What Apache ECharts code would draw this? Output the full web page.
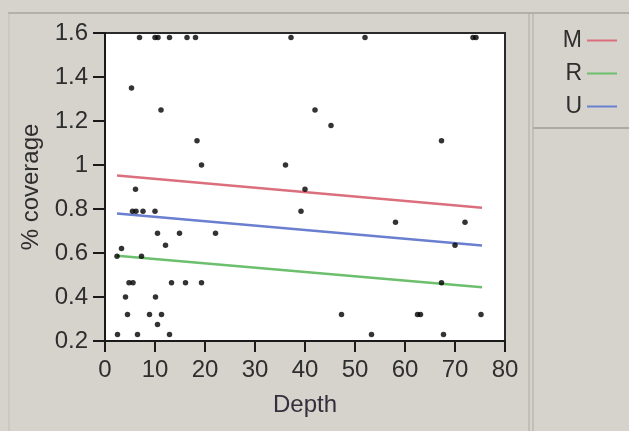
<!DOCTYPE html>
<html>
<head>
<meta charset="utf-8">
<script src="https://cdn.jsdelivr.net/npm/echarts@6/dist/echarts.min.js"></script>
<style>
  html, body { margin: 0; padding: 0; background: #d6d3cc; }
  #chart { width: 629px; height: 431px; }
</style>
</head>
<body>
<div id="chart"></div>
<script>
// scatter points (Depth, % coverage)
const depth = [
  6.9, 10.0, 10.6, 12.9, 16.4, 18.1, 37.2, 52.0, 73.6, 74.2,
  5.3, 11.2, 42.0, 45.2, 18.4, 67.3, 19.3, 36.1, 6.1, 40.0,
  5.5, 6.2, 7.6, 10.0, 39.2, 58.1, 72.0, 10.5, 14.9, 22.1,
  12.1, 70.0, 3.3, 2.4, 7.3,
  4.8, 5.6, 13.3, 16.1, 19.3, 67.3, 4.1, 10.1,
  4.5, 8.9, 11.3, 47.3, 62.5, 63.1, 75.2, 10.5,
  2.5, 6.5, 12.9, 53.3, 67.7
]
const coverage = [
  1.58, 1.58, 1.58, 1.58, 1.58, 1.58, 1.58, 1.58, 1.58, 1.58,
  1.35, 1.25, 1.25, 1.18, 1.11, 1.11, 1.0, 1.0, 0.89, 0.89,
  0.79, 0.79, 0.79, 0.79, 0.79, 0.74, 0.74, 0.69, 0.69, 0.69,
  0.635, 0.635, 0.62, 0.585, 0.585,
  0.465, 0.465, 0.465, 0.465, 0.465, 0.465, 0.40, 0.40,
  0.32, 0.32, 0.32, 0.32, 0.32, 0.32, 0.32, 0.275,
  0.23, 0.23, 0.23, 0.23, 0.23
]

// fitted lines, one per group
const fitDepth = [2.4, 75.4]
const fitM = [0.952, 0.806]
const fitR = [0.588, 0.444]
const fitU = [0.780, 0.634]

const groups = ['M', 'R', 'U']
const colors = { M: '#dc6f7d', R: '#6cbf6c', U: '#6a7fd0' }
const fits = { M: fitM, R: fitR, U: fitU }

const font = 'Liberation Sans, Arial, sans-serif'
const textColor = '#2e2e2e'

const chart = echarts.init(document.getElementById('chart'))

const lineSeries = groups.map(g => ({
  name: g,
  type: 'line',
  symbol: 'none',
  silent: true,
  z: 2,
  lineStyle: { color: colors[g], width: 2.5 },
  itemStyle: { color: colors[g] },
  data: fitDepth.map((d, i) => [d, fits[g][i]])
}))

const option = {
  backgroundColor: '#d6d3cc',
  animation: false,
  grid: {
    left: 105,
    right: 124,
    top: 33,
    bottom: 90,
    show: true,
    backgroundColor: '#ffffff',
    borderColor: '#2a2a2a',
    borderWidth: 2
  },
  legend: {
    data: groups,
    orient: 'vertical',
    right: 7,
    top: 24,
    align: 'right',
    icon: 'rect',
    itemWidth: 30,
    itemHeight: 2,
    itemGap: 10,
    textStyle: { fontFamily: font, fontSize: 23, color: textColor, lineHeight: 22 }
  },
  xAxis: {
    type: 'value',
    min: 0,
    max: 80,
    interval: 10,
    name: 'Depth',
    nameLocation: 'middle',
    nameGap: 52,
    nameTextStyle: { fontFamily: font, fontSize: 24, color: '#352e3d' },
    axisLine: { lineStyle: { color: '#1a1a1a', width: 2 } },
    axisTick: { length: 11, lineStyle: { color: '#1a1a1a', width: 2 } },
    axisLabel: { margin: 17, fontFamily: font, fontSize: 24, color: textColor },
    splitLine: { show: false }
  },
  yAxis: {
    type: 'value',
    min: 0.2,
    max: 1.6,
    interval: 0.2,
    name: '% coverage',
    nameLocation: 'middle',
    nameGap: 58,
    nameTextStyle: { fontFamily: font, fontSize: 24, color: textColor },
    axisLine: { lineStyle: { color: '#1a1a1a', width: 2 } },
    axisTick: { length: 12, lineStyle: { color: '#1a1a1a', width: 2 } },
    axisLabel: { margin: 17, fontFamily: font, fontSize: 24, color: textColor },
    splitLine: { show: false }
  },
  // panel frame lines of the window
  graphic: [
    { type: 'line', shape: { x1: 8, y1: 13, x2: 629, y2: 13 }, style: { stroke: '#b4b0a8', lineWidth: 2 }, silent: true },
    { type: 'line', shape: { x1: 9, y1: 13, x2: 9, y2: 431 }, style: { stroke: '#c2beb7', lineWidth: 1 }, silent: true },
    { type: 'line', shape: { x1: 529, y1: 13, x2: 529, y2: 431 }, style: { stroke: '#aeaaa3', lineWidth: 1 }, silent: true },
    { type: 'line', shape: { x1: 533, y1: 13, x2: 533, y2: 431 }, style: { stroke: '#aeaaa3', lineWidth: 1 }, silent: true },
    { type: 'line', shape: { x1: 533, y1: 128, x2: 629, y2: 128 }, style: { stroke: '#aeaaa3', lineWidth: 2 }, silent: true }
  ],
  series: [
    ...lineSeries,
    {
      type: 'scatter',
      symbol: 'circle',
      symbolSize: 5.5,
      z: 3,
      itemStyle: { color: '#000000' },
      data: depth.map((d, i) => [d, coverage[i]])
    }
  ]
}

chart.setOption(option)
</script>
</body>
</html>
